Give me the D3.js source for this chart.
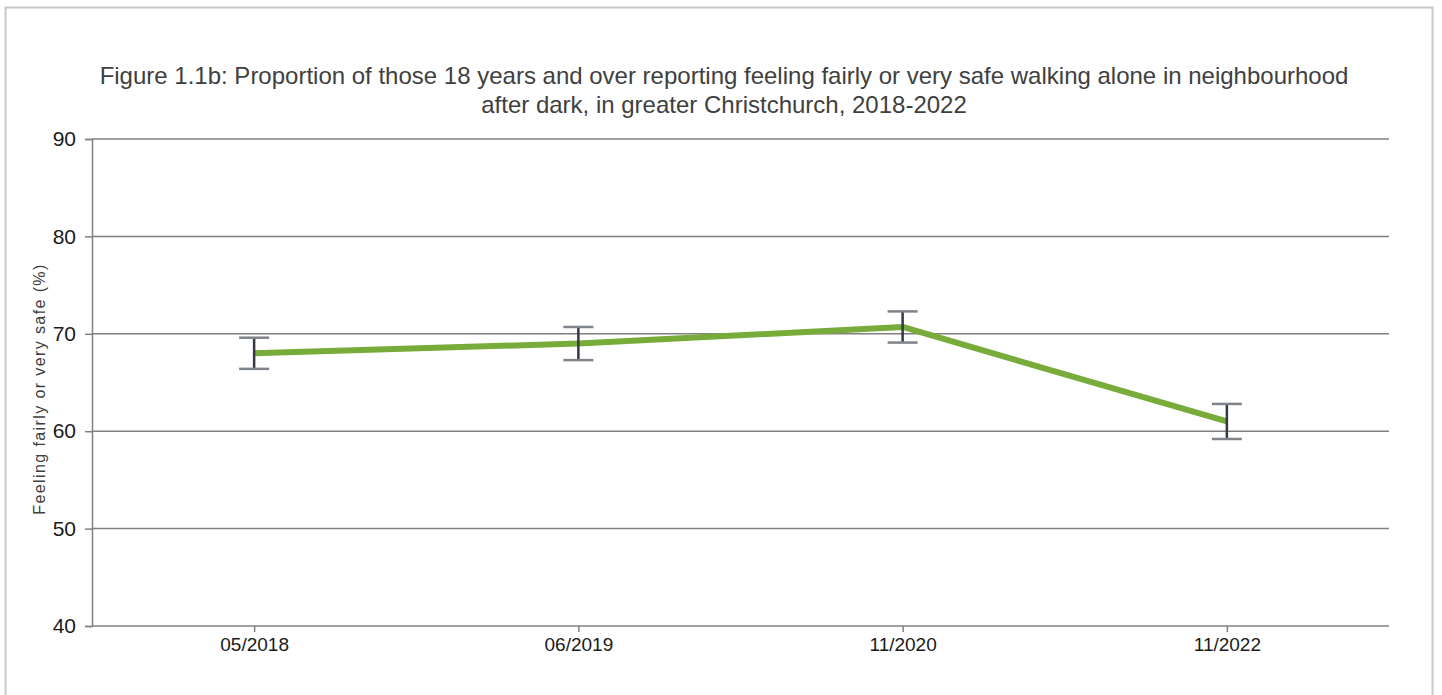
<!DOCTYPE html>
<html>
<head>
<meta charset="utf-8">
<script src="https://cdn.jsdelivr.net/npm/d3@7"></script>
<style>
  body { margin: 0; background: #fff; }
  text { font-family: "Liberation Sans", Arial, sans-serif; }
</style>
</head>
<body>
<svg width="1442" height="695"></svg>
<script>
// Data
var periods = ["05/2018", "06/2019", "11/2020", "11/2022"];
var values = [68.0, 69.0, 70.7, 61.0];
var lower = [66.4, 67.3, 69.1, 59.2];
var upper = [69.6, 70.7, 72.3, 62.8];
var yTicks = [40, 50, 60, 70, 80, 90];

var svg = d3.select("svg"),
  width = +svg.attr("width"),
  height = +svg.attr("height");

var margin = { top: 139, right: 53, bottom: 69, left: 92 };
var plotW = width - margin.left - margin.right,
  plotH = height - margin.top - margin.bottom;

// frame
svg.append("rect")
  .attr("x", 5.5).attr("y", 7.5)
  .attr("width", 1427).attr("height", 700)
  .attr("fill", "#fff")
  .attr("stroke", "#c8c8c8")
  .attr("stroke-width", 2);

// title
var title = svg.append("text")
  .attr("text-anchor", "middle")
  .attr("fill", "#404040")
  .style("font-size", "24px");
title.append("tspan").attr("x", 724).attr("y", 84)
  .text("Figure 1.1b: Proportion of those 18 years and over reporting feeling fairly or very safe walking alone in neighbourhood");
title.append("tspan").attr("x", 724).attr("y", 113)
  .text("after dark, in greater Christchurch, 2018-2022");

var x = d3.scalePoint().domain(periods).range([0, plotW]).padding(0.5);
var y = d3.scaleLinear().domain([40, 90]).range([plotH, 0]);

var g = svg.append("g")
  .attr("transform", "translate(" + margin.left + "," + margin.top + ")");

// gridlines
g.append("g")
  .selectAll("line")
  .data(yTicks)
  .enter()
  .append("line")
  .attr("x1", 0).attr("x2", plotW)
  .attr("y1", function (d) { return y(d); })
  .attr("y2", function (d) { return y(d); })
  .attr("stroke", "#808080")
  .attr("stroke-width", 1.5);

// y axis
var yAxis = g.append("g")
  .call(d3.axisLeft(y).tickValues(yTicks).tickSize(7).tickPadding(9));
yAxis.select(".domain").attr("stroke", "#808080").attr("stroke-width", 1.5);
yAxis.selectAll(".tick line").attr("stroke", "#808080").attr("stroke-width", 1.5);
yAxis.selectAll("text")
  .attr("fill", "#1a1a1a")
  .style("font-size", "21px")
  .style("font-family", "Liberation Sans, Arial, sans-serif");

// x axis
var xAxis = g.append("g")
  .attr("transform", "translate(0," + plotH + ")")
  .call(d3.axisBottom(x).tickSize(6).tickSizeOuter(0).tickPadding(6));
xAxis.select(".domain").remove();
xAxis.selectAll(".tick line").attr("stroke", "#808080").attr("stroke-width", 1.5);
xAxis.selectAll("text")
  .attr("fill", "#1a1a1a")
  .style("font-size", "19px")
  .style("font-family", "Liberation Sans, Arial, sans-serif");

// y axis title
svg.append("text")
  .attr("transform", "translate(45,389) rotate(-90)")
  .attr("text-anchor", "middle")
  .attr("fill", "#404040")
  .style("font-size", "16px")
  .style("letter-spacing", "1.4px")
  .text("Feeling fairly or very safe (%)");

// line
var line = d3.line()
  .x(function (d, i) { return x(periods[i]); })
  .y(function (d) { return y(d); });

g.append("path")
  .datum(values)
  .attr("fill", "none")
  .attr("stroke", "#77ac3a")
  .attr("stroke-width", 6)
  .attr("stroke-linejoin", "round")
  .attr("d", line);

// error bars
var bars = g.append("g")
  .selectAll("g")
  .data(periods)
  .enter()
  .append("g");

bars.append("line")
  .attr("x1", function (d) { return x(d); })
  .attr("x2", function (d) { return x(d); })
  .attr("y1", function (d, i) { return y(upper[i]); })
  .attr("y2", function (d, i) { return y(lower[i]); })
  .attr("stroke", "#333a45")
  .attr("stroke-width", 2.5);

[upper, lower].forEach(function (arr) {
  bars.append("line")
    .attr("x1", function (d) { return x(d) - 15; })
    .attr("x2", function (d) { return x(d) + 15; })
    .attr("y1", function (d, i) { return y(arr[i]); })
    .attr("y2", function (d, i) { return y(arr[i]); })
    .attr("stroke", "#7f838a")
    .attr("stroke-width", 2.5);
});
</script>
</body>
</html>
